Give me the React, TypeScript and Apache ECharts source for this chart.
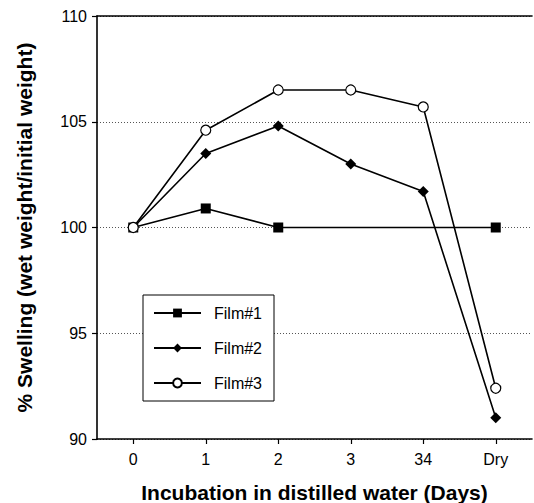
import React, { useEffect, useRef } from "react";
import * as echarts from "echarts";

const categories = ["0", "1", "2", "3", "34", "Dry"];
const film1 = [100, 100.9, 100, null, null, 100];
const film2 = [100, 103.5, 104.8, 103.0, 101.7, 91.0];
const film3 = [100, 104.6, 106.5, 106.5, 105.7, 92.4];
const yTicks = { min: 90, max: 110, interval: 5 };

const FONT = "'Liberation Sans', Arial, Helvetica, sans-serif";

export default function App() {
  const ref = useRef<HTMLDivElement>(null);
  useEffect(() => {
    if (!ref.current) return;
    const chart = echarts.init(ref.current, undefined, { renderer: "svg" });
    const lineStyle = { color: "#000", width: 1.6 };
    chart.setOption({
      animation: false,
      backgroundColor: "#fff",
      textStyle: { fontFamily: FONT, color: "#000" },
      grid: { left: 97, right: 2, top: 16, bottom: 64, containLabel: false, outerBoundsMode: "none" },
      legend: {
        orient: "vertical",
        left: 143,
        top: 295,
        padding: [10, 12, 10, 10],
        itemGap: 19,
        itemWidth: 47,
        itemHeight: 11,
        borderColor: "#000",
        borderWidth: 1,
        backgroundColor: "#fff",
        textStyle: { fontFamily: FONT, fontSize: 16, color: "#000", padding: [0, 0, 0, 8] },
        data: ["Film#1", "Film#2", "Film#3"],
      },
      xAxis: [
        {
          type: "category",
          data: categories,
          boundaryGap: true,
          position: "bottom",
          axisLine: { show: true, lineStyle: { color: "#000", width: 1.6 } },
          axisTick: { show: true, alignWithLabel: true, length: 5, lineStyle: { color: "#000", width: 1.2 } },
          axisLabel: { fontFamily: FONT, fontSize: 16, color: "#000", margin: 12 },
          splitLine: { show: false },
          name: "Incubation in distilled water (Days)",
          nameLocation: "middle",
          nameGap: 43,
          nameTextStyle: { fontFamily: FONT, fontSize: 21, fontWeight: "bold", color: "#000" },
        },
        {
          type: "category",
          data: categories,
          position: "top",
          axisLine: { show: true, lineStyle: { color: "#000", width: 1.6 } },
          axisTick: { show: false },
          axisLabel: { show: false },
          splitLine: { show: false },
        },
      ],
      yAxis: {
        type: "value",
        min: yTicks.min,
        max: yTicks.max,
        interval: yTicks.interval,
        axisLine: { show: true, lineStyle: { color: "#000", width: 1.6 } },
        axisTick: { show: true, length: 5, lineStyle: { color: "#000", width: 1.2 } },
        axisLabel: { fontFamily: FONT, fontSize: 16, color: "#000", margin: 10 },
        splitLine: { show: true, lineStyle: { color: "#555", type: [1, 2], width: 1 } },
        name: "% Swelling (wet weight/initial weight)",
        nameLocation: "middle",
        nameGap: 62,
        nameTextStyle: { fontFamily: FONT, fontSize: 21, fontWeight: "bold", color: "#000" },
      },
      series: [
        {
          name: "Film#1",
          type: "line",
          data: film1,
          connectNulls: true,
          symbol: "rect",
          symbolSize: 10,
          showAllSymbol: true,
          itemStyle: { color: "#000" },
          lineStyle,
          z: 3,
        },
        {
          name: "Film#2",
          type: "line",
          data: film2,
          symbol: "diamond",
          symbolSize: 11,
          showAllSymbol: true,
          itemStyle: { color: "#000" },
          lineStyle,
          z: 3,
        },
        {
          name: "Film#3",
          type: "line",
          data: film3,
          symbol: "circle",
          symbolSize: 10,
          showAllSymbol: true,
          itemStyle: { color: "#fff", borderColor: "#000", borderWidth: 1.2 },
          lineStyle,
          z: 3,
        },
      ],
    });
    return () => chart.dispose();
  }, []);
  return (
    <div
      ref={ref}
      style={{ position: "absolute", left: 0, top: 0, width: 534, height: 503 }}
    />
  );
}
